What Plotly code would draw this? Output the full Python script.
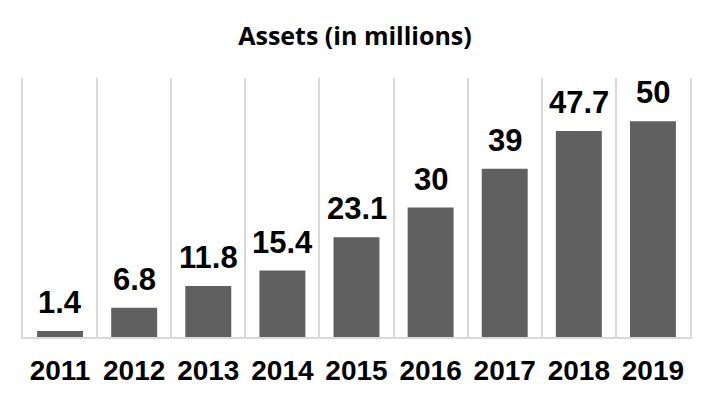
import plotly.graph_objects as go

years = ["2011", "2012", "2013", "2014", "2015", "2016", "2017", "2018", "2019"]
assets = [1.4, 6.8, 11.8, 15.4, 23.1, 30, 39, 47.7, 50]
value_labels = ["1.4", "6.8", "11.8", "15.4", "23.1", "30", "39", "47.7", "50"]
title_text = "Assets (in millions)"

# page body has an 8px margin; figure sized to fit the 712x401 window
W, H = 704, 393

fig = go.Figure()
fig.add_trace(go.Bar(x=list(range(len(years))), y=assets, marker_color="#606060",
                     marker_line_width=0, hoverinfo="skip"))

for i, (v, lab) in enumerate(zip(assets, value_labels)):
    fig.add_annotation(x=i, y=v, text=f"<b>{lab}</b>", showarrow=False,
                       yanchor="bottom", yshift=9,
                       font=dict(family="Liberation Sans, Arial", size=31, color="#000000"))

fig.update_layout(
    width=W, height=H,
    margin=dict(l=15, r=22, t=70, b=64),
    paper_bgcolor="white", plot_bgcolor="white",
    bargap=0.38,
    showlegend=False,
    title=dict(text=f"<b>{title_text}</b>", x=(355 - 8) / W, xanchor="center",
               y=1 - 28 / H, yanchor="middle",
               font=dict(family="Open Sans", size=25, color="#000000")),
    xaxis=dict(type="linear", range=[-0.5, 8.5], tick0=-0.5, dtick=1, showgrid=True,
               gridcolor="#d9d9d9", gridwidth=1.6, ticks="", showline=True, linecolor="#d9d9d9",
               linewidth=1.6, showticklabels=False, zeroline=False, automargin=False),
    yaxis=dict(range=[0, 60], showgrid=False, showticklabels=False, zeroline=False, ticks="",
               showline=True, mirror=True, linecolor="#d9d9d9", linewidth=1.6, automargin=False),
    xaxis2=dict(overlaying="x", anchor="y", side="bottom", type="linear", range=[-0.5, 8.5],
                tickmode="array", tickvals=list(range(len(years))),
                ticktext=[f"<b>{y}</b>" for y in years], showgrid=False, ticks="",
                showline=False, zeroline=False, automargin=False,
                tickfont=dict(family="Liberation Sans, Arial", size=28, color="#000000"),
                ticklabelstandoff=14),
)
fig.add_trace(go.Scatter(x=list(range(len(years))), y=[None]*len(years), xaxis="x2",
                         hoverinfo="skip", showlegend=False))

fig.write_html("out.html")
